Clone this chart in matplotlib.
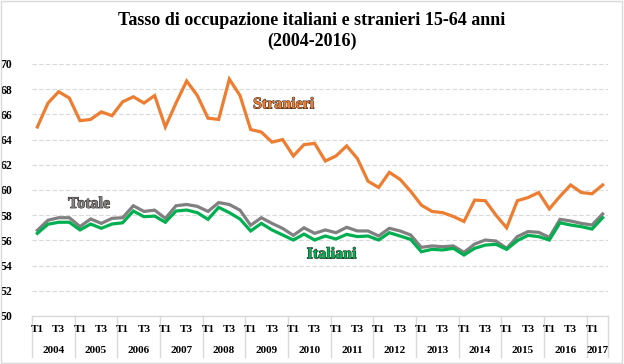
import matplotlib
matplotlib.use('Agg')
import matplotlib.pyplot as plt
import matplotlib.patheffects as pe
from matplotlib.transforms import blended_transform_factory

# quarterly values, 2004 T1 .. 2017 T2
stranieri = [65.0, 66.9, 67.8, 67.3, 65.5, 65.6, 66.2, 65.9, 67.0, 67.4, 66.9, 67.5,
             65.0, 66.9, 68.65, 67.5, 65.7, 65.6, 68.8, 67.5, 64.8, 64.6, 63.8, 64.0,
             62.7, 63.6, 63.7, 62.3, 62.7, 63.5, 62.5, 60.7, 60.2, 61.4, 60.85, 59.9,
             58.8, 58.3, 58.2, 57.9, 57.5, 59.2, 59.15, 58.0, 57.0, 59.15, 59.4, 59.8,
             58.5, 59.5, 60.4, 59.8, 59.7, 60.4]
totale = [56.8, 57.6, 57.8, 57.8, 57.1, 57.7, 57.35, 57.75, 57.8, 58.75, 58.3, 58.4,
          57.75, 58.75, 58.85, 58.7, 58.3, 59.0, 58.85, 58.4, 57.2, 57.8, 57.35, 56.95,
          56.4, 57.0, 56.56, 56.83, 56.61, 57.04, 56.75, 56.75, 56.35, 56.96, 56.75, 56.43,
          55.45, 55.56, 55.5, 55.56, 55.05, 55.71, 56.03, 55.95, 55.37, 56.3, 56.7, 56.64,
          56.24, 57.67, 57.54, 57.35, 57.22, 58.1]
italiani = [56.56, 57.28, 57.44, 57.44, 56.83, 57.3, 56.96, 57.3, 57.4, 58.33, 57.88, 57.93,
            57.44, 58.33, 58.41, 58.2, 57.67, 58.62, 58.2, 57.7, 56.75, 57.35, 56.83, 56.43,
            56.03, 56.5, 56.03, 56.35, 56.11, 56.48, 56.3, 56.35, 56.03, 56.61, 56.35, 56.08,
            55.1, 55.29, 55.24, 55.37, 54.84, 55.37, 55.63, 55.69, 55.29, 55.98, 56.4, 56.3,
            56.03, 57.4, 57.22, 57.09, 56.9, 57.8]
years = ['2004', '2005', '2006', '2007', '2008', '2009', '2010', '2011', '2012',
         '2013', '2014', '2015', '2016', '2017']
quarters_per_year = [4] * 13 + [2]
quarter_labels = ['T1', '', 'T3', '']
yticks = [50, 52, 54, 56, 58, 60, 62, 64, 66, 68, 70]

c_str = '#ED7D31'
c_tot = '#808080'
c_ita = '#00B050'
grid_c = '#D9D9D9'
serif = ['Liberation Serif', 'DejaVu Serif']

fig = plt.figure(figsize=(6.24, 3.64), dpi=100)
ax = fig.add_axes([32 / 624, 48 / 364, 576 / 624, 252 / 364])

x = [i + 0.5 for i in range(len(stranieri))]
ax.plot(x, stranieri, color=c_str, lw=2.3, solid_joinstyle='miter')
ax.plot(x, totale, color=c_tot, lw=2.3, solid_joinstyle='miter')
ax.plot(x, italiani, color=c_ita, lw=2.3, solid_joinstyle='miter')

ax.set_xlim(0, len(stranieri))
ax.set_ylim(50, 70)
ax.set_yticks(yticks)
ax.set_yticklabels([str(v) for v in yticks], fontfamily=serif, fontweight='bold', fontsize=8.5)
ax.tick_params(axis='y', length=0, pad=14)
ax.set_xticks([])
ax.yaxis.grid(True, color=grid_c, linestyle=(0, (4, 2)), linewidth=0.8)
ax.set_axisbelow(True)
for s in ['top', 'right', 'left']:
    ax.spines[s].set_visible(False)
ax.spines['bottom'].set_color(grid_c)
ax.spines['bottom'].set_linewidth(1.0)

# category axis: quarters + years
tr = blended_transform_factory(ax.transData, ax.transAxes)
pos = 0
bounds = [0]
for yr, nq in zip(years, quarters_per_year):
    for q in range(nq):
        if quarter_labels[q]:
            ax.text(pos + q + 0.5, -0.052, quarter_labels[q], transform=tr, ha='center', va='center',
                    fontfamily=serif, fontweight='bold', fontsize=8)
    ax.text(pos + nq / 2, -0.135, yr, transform=tr, ha='center', va='center',
            fontfamily=serif, fontweight='bold', fontsize=8)
    pos += nq
    bounds.append(pos)
for b in bounds:
    ax.plot([b, b], [0, -0.163], transform=tr, color=grid_c, lw=1.0, clip_on=False)

# series labels
def label(xp, yp, txt, col):
    ax.text(xp, yp, txt, color=col, fontfamily=serif, fontweight='bold', fontsize=11.5,
            ha='center', va='center',
            path_effects=[pe.withStroke(linewidth=0.7, foreground='#2A2020')])

label(23.6, 66.8, 'Stranieri', c_str)
label(5.35, 58.9, 'Totale', c_tot)
label(28.1, 54.9, 'Italiani', c_ita)

fig.text(0.5, 0.945, 'Tasso di occupazione italiani e stranieri 15-64 anni', ha='center', va='center',
         fontfamily=serif, fontweight='bold', fontsize=13)
fig.text(0.5, 0.887, '(2004-2016)', ha='center', va='center',
         fontfamily=serif, fontweight='bold', fontsize=13)

fig.patches.append(plt.Rectangle((0.002, 0.003), 0.995, 0.994, fill=False, edgecolor=grid_c,
                                 lw=1.0, transform=fig.transFigure))

fig.savefig('out.png', dpi=100)
